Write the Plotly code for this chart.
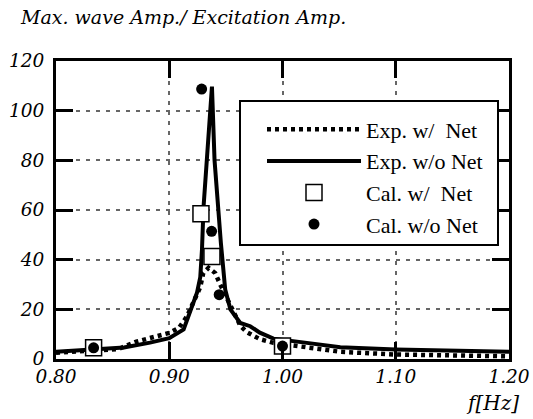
import plotly.graph_objects as go

# ---- data ----
exp_w_f = [0.80, 0.83, 0.855, 0.871, 0.889, 0.900, 0.9085, 0.9157, 0.9274, 0.930, 0.9347,
           0.9406, 0.945, 0.953, 0.957, 0.963, 0.9685, 0.980, 0.992, 1.0156, 1.051, 1.10, 1.20]
exp_w_v = [2.5, 3.5, 4.0, 7.0, 9.2, 10.5, 12.5, 17.2, 29.0, 34.6, 36.7,
           34.6, 30.0, 22.6, 17.9, 13.2, 10.8, 8.0, 6.5, 5.2, 2.9, 1.8, 1.1]

exp_wo_f = [0.80, 0.84, 0.86, 0.883, 0.90, 0.9127, 0.9185, 0.9245, 0.9274, 0.9289, 0.9303,
            0.9333, 0.9377, 0.940, 0.943, 0.9456, 0.9494, 0.954, 0.9627, 0.9715, 0.980,
            0.992, 1.0215, 1.051, 1.10, 1.20]
exp_wo_v = [2.9, 3.8, 4.6, 6.6, 8.4, 11.9, 18.7, 26.7, 33.0, 44.0, 61.4,
            80.2, 109.7, 80.0, 61.4, 46.7, 28.0, 20.0, 14.5, 13.2, 10.6,
            8.2, 6.5, 4.7, 3.8, 2.9]

cal_w_f = [0.8332, 0.928, 0.9377, 1.0]
cal_w_v = [4.5, 58.5, 41.3, 5.2]

cal_wo_f = [0.8332, 0.9286, 0.9374, 0.9441, 1.0]
cal_wo_v = [4.5, 108.7, 51.4, 25.9, 5.2]

names = ["Exp. w/  Net", "Exp. w/o Net", "Cal. w/  Net", "Cal. w/o Net"]

x_ticks = [0.80, 0.90, 1.00, 1.10, 1.20]
x_labels = ["0.80", "0.90", "1.00", "1.10", "1.20"]
y_ticks = [0, 20, 40, 60, 80, 100, 120]
y_labels = ["0", "20", "40", "60", "80", "100", "120"]

FONT_IT = "DejaVu Serif"        # italic serif face that is available
FONT_LEG = "Liberation Serif"   # upright Times-like face

fig = go.Figure()
fig.add_trace(go.Scatter(x=exp_w_f, y=exp_w_v, mode="lines", name=names[0],
                         line=dict(color="black", width=4.5, dash="4px,4px")))
fig.add_trace(go.Scatter(x=exp_wo_f, y=exp_wo_v, mode="lines", name=names[1],
                         line=dict(color="black", width=4)))
fig.add_trace(go.Scatter(x=cal_w_f, y=cal_w_v, mode="markers", name=names[2],
                         marker=dict(symbol="square", size=16, color="white",
                                     line=dict(color="black", width=1.5))))
fig.add_trace(go.Scatter(x=cal_wo_f, y=cal_wo_v, mode="markers", name=names[3],
                         marker=dict(symbol="circle", size=11, color="black",
                                     line=dict(width=0))))

L, R, T, B = 56, 24, 61, 60
W, H = 533, 419
pw, ph = W - L - R, H - T - B

def px(xp):
    return (xp - L) / pw

def py(yp):
    return (H - B - yp) / ph

axis_common = dict(
    showline=True, linecolor="black", linewidth=3, mirror="ticks",
    ticks="inside", ticklen=17, tickwidth=2.5, tickcolor="black",
    showgrid=True, gridcolor="#666666", gridwidth=1.5, griddash="4px,6px",
    zeroline=False, automargin=False,
    tickfont=dict(family=FONT_IT, size=18.5, color="black", style="italic"),
)

fig.update_xaxes(range=[0.8, 1.2], tickvals=x_ticks, ticktext=x_labels,
                 ticklabelstandoff=-1, **axis_common)
fig.update_yaxes(range=[0, 120], tickvals=y_ticks, ticktext=y_labels,
                 ticklabelstandoff=5, **axis_common)

fig.update_layout(
    width=W, height=H,
    margin=dict(l=L, r=R, t=T, b=B),
    paper_bgcolor="white", plot_bgcolor="white",
    font=dict(family=FONT_LEG, size=22, color="black"),
    title=dict(text="Max. wave Amp./ Excitation Amp.", xref="container", yref="container",
               x=21 / W, xanchor="left", y=1 - 17 / H, yanchor="middle",
               font=dict(family=FONT_IT, size=19, color="black", style="italic")),
    showlegend=True,
    legend=dict(x=px(262), xanchor="left", y=py(177), yanchor="middle",
                bgcolor="rgba(0,0,0,0)", borderwidth=0, itemwidth=94,
                font=dict(family=FONT_LEG, size=22, color="black"),
                tracegroupgap=0),
    shapes=[dict(type="rect", xref="paper", yref="paper",
                 x0=px(240), x1=px(498), y0=py(245), y1=py(101),
                 line=dict(color="black", width=2), fillcolor="white", layer="above")],
    annotations=[dict(text="f[Hz]", xref="paper", yref="paper", x=px(521), y=py(403),
                      xanchor="right", yanchor="middle", showarrow=False,
                      font=dict(family=FONT_IT, size=20, color="black", style="italic"))],
)

fig.write_html("out.html")
